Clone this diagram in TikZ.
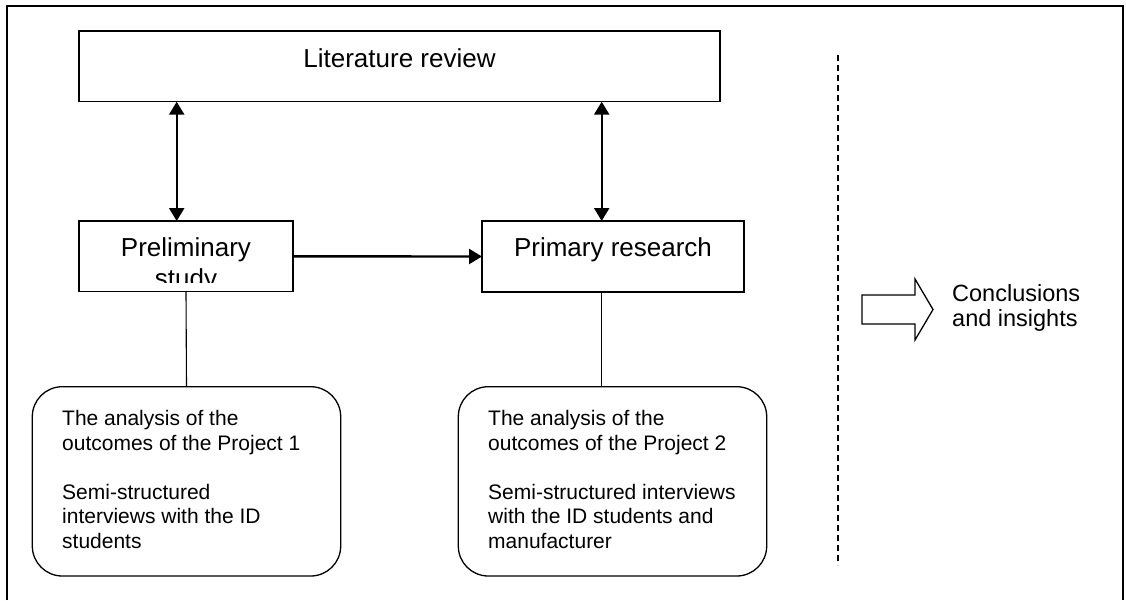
\documentclass[tikz,border=0pt]{standalone}
\usepackage{fontspec}
\setmainfont{Liberation Sans}
\usetikzlibrary{arrows.meta}
\begin{document}
\begin{tikzpicture}[x=1pt,y=-1pt,
  box/.style={draw, line width=1.3pt, inner sep=0pt, outer sep=0pt},
  rbox/.style={box, rounded corners=30pt},
  dbl/.style={line width=2.4pt, {Triangle[width=15pt,length=13pt]}-{Triangle[width=15pt,length=13pt]}},
  arr/.style={line width=2.4pt, -{Triangle[width=15pt,length=13pt]}},
  conn/.style={line width=1.1pt},
  big/.style={font=\fontsize{26}{30}\selectfont, inner sep=0pt},
  small/.style={font=\fontsize{21}{24.5}\selectfont, inner sep=0pt, align=left},
  concl/.style={font=\fontsize{23.5}{25}\selectfont, inner sep=0pt, align=left},
  dashline/.style={line width=1.5pt, dash pattern=on 6pt off 4pt},
  blockarrow/.style={draw, line width=1.3pt, line join=miter, fill=white}
]
\useasboundingbox (0,0) rectangle (1126,600);
\fill[white] (0,0) rectangle (1126,600);
% outer frame
\draw[line width=1.5pt] (7,600) -- (7,6) -- (1123,6) -- (1123,600);

% boxes
\node[box, minimum width=641pt, minimum height=70.7pt] (lit) at (399.5,66.35) {};
\node[box, minimum width=214pt, minimum height=70.7pt] (prelim) at (186,256.35) {};
\node[box, minimum width=262pt, minimum height=71pt] (primary) at (613,256.5) {};
\node[rbox, minimum width=308.4pt, minimum height=189.3pt] (res1) at (186.5,481.35) {};
\node[rbox, minimum width=308.4pt, minimum height=189.3pt] (res2) at (612.5,481.35) {};

% texts
\node[big, anchor=base] (littext) at (399.5,67) {Literature review};
\node[big, anchor=base] (prelimtext) at (186,256) {Preliminary};
\begin{scope}
  \clip (79,221) rectangle (293,282);
  \node[big, anchor=base] (studytext) at (186,287) {study};
\end{scope}
\node[big, anchor=base] (primtext) at (613,256) {Primary research};
\node[small, anchor=base west] (res1text) at (62,548.2) {The analysis of the\\outcomes of the Project 1\\[24.5pt]Semi-structured\\interviews with the ID\\students};
\node[small, anchor=base west] (res2text) at (488,548.2) {The analysis of the\\outcomes of the Project 2\\[24.5pt]Semi-structured interviews\\with the ID students and\\manufacturer};
\node[concl, anchor=base west] (concltext) at (952,326) {Conclusions\\and insights};

% connectors
\coordinate (la) at (176.7,0);
\coordinate (ra) at (601.7,0);
\draw[dbl] (lit.south -| la) -- (prelim.north -| la);
\draw[dbl] (lit.south -| ra) -- (primary.north -| ra);
\draw[arr] (prelim.east) -- (primary.west);
\draw[conn] (prelim.south) -- (res1.north);
\draw[conn] (primary.south -| ra) -- (res2.north -| ra);

% dashed separator
\draw[dashline] (838,55) -- (838,565);

% block arrow
\draw[blockarrow] (862,295) -- (915,295) -- (915,279) -- (933,309.5) -- (915,340) -- (915,324) -- (862,324) -- cycle;
\end{tikzpicture}
\end{document}
